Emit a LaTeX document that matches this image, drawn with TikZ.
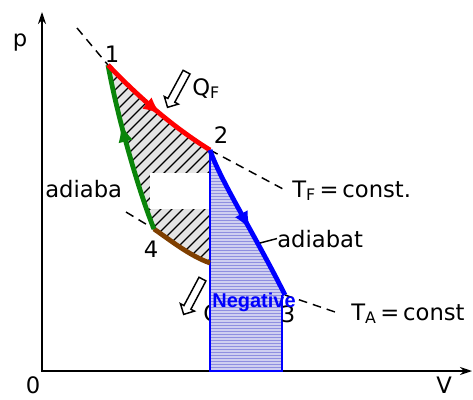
\documentclass[tikz,border=0pt]{standalone}
\usepackage{fontspec}
\setmainfont{DejaVu Sans}
\newfontfamily\negfont{Liberation Sans}
\usepackage{tikz}
\usetikzlibrary{arrows.meta,shapes.arrows,decorations.markings}
\usepackage{xcolor}
\definecolor{PathRed}{HTML}{FF0000}
\definecolor{PathGreen}{HTML}{0A850A}
\definecolor{PathBlue}{HTML}{0000FF}
\definecolor{PathBrown}{HTML}{7F3F00}
\definecolor{Lavender}{HTML}{CFCFF0}
\definecolor{LavLine}{HTML}{8F8FE0}
\definecolor{HatchGray}{HTML}{E4E4E4}
\tikzset{
  lbl/.style={font=\fontsize{17}{20}\selectfont, inner sep=0pt},
  iso/.style={line width=1.1pt, dash pattern=on 6.5pt off 4.5pt},
  axes/.style={line width=1.1pt, {Stealth[length=9pt,width=6pt]}-{Stealth[length=9pt,width=6pt]}},
  curve/.style={line width=3.6pt},
  midarr/.style={postaction={decorate, decoration={markings, mark=at position #1 with {\arrow{Latex[length=14pt,width=11pt]}}}}},
  heat/.style={single arrow, draw, line width=1.1pt, fill=white, minimum height=30pt, inner sep=2.4pt, single arrow head extend=3pt}
}

\begin{document}
\begin{tikzpicture}[x=.75pt,y=-.75pt]
\useasboundingbox (0,0) rectangle (473,399);
% corners of the cycle
\coordinate (p1) at (108,65);
\coordinate (p2) at (210,150);
\coordinate (p3) at (285,295);
\coordinate (p4) at (154,229);
\coordinate (c4) at (210,263);
% hatched work area
\begin{scope}
  \clip (p1) .. controls (130,88) and (165,122) .. (p2) -- (c4) .. controls (190,256) and (170,240) .. (p4) .. controls (140,195) and (118,120) .. (p1);
  \fill[HatchGray] (100,60) rectangle (215,270);
  \foreach \c in {172,183,...,480}
    \draw[line width=1pt] ({\c-300},300) -- (\c,0);
\end{scope}
\fill[white] (150,173) rectangle (210,209);
% isotherms
\coordinate (tf0) at (77,28);
\coordinate (tf1) at (283,189);
\coordinate (ta0) at (126,212);
\coordinate (ta1) at (338,313);
\draw[iso] (tf0) -- (p1);
\draw[iso] (p2) -- (tf1);
\draw[iso] (ta0) -- (p4);
\draw[iso] (p3) -- (ta1);
% axes
\coordinate (o) at (42,371);
\coordinate (ytop) at (42,12);
\coordinate (xend) at (472,371);
\draw[axes] (ytop) |- (xend);
% heat given off
\node[lbl, anchor=base west] (qa) at (203,321) {Q\textsubscript{A}};
\node[heat, rotate=242] (qaarr) at (194,295) {};
\node[heat, rotate=241.6] (qfarr) at (178,88) {};
% negative area under the adiabat
\begin{scope}
  \clip (p2) .. controls (220,180) and (255,235) .. (p3) -- (282,295) -- (282,371) -- (210,371) -- cycle;
  \fill[Lavender] (205,145) rectangle (290,375);
  \foreach \y in {151,154,...,370}
    \draw[LavLine, line width=.5pt] (205,\y) -- (290,\y);
\end{scope}
\draw[PathBlue, line width=1.1pt] (p2) -- (210,371) -- (282,371) -- (282,295);
% the cycle
\draw[curve, PathBrown] (p4) .. controls (170,240) and (190,256) .. (c4);
\draw[curve, PathGreen, midarr=.65] (p4) .. controls (140,195) and (118,120) .. (p1);
\draw[curve, PathRed, midarr=.55] (p1) .. controls (130,88) and (165,122) .. (p2);
\draw[curve, PathBlue, midarr=.55] (p2) .. controls (220,180) and (255,235) .. (p3);
% labels
\node[lbl, anchor=base] (plab) at (20,47) {p};
\node[lbl, anchor=base] (olab) at (33,393) {0};
\node[lbl, anchor=base] (vlab) at (444,393) {V};
\node[lbl, anchor=base] (l1) at (112,63) {1};
\node[lbl, anchor=base] (l2) at (221,143) {2};
\node[lbl, anchor=base] (l3) at (288,322) {3};
\node[lbl, anchor=base] (l4) at (151,257) {4};
\node[lbl, anchor=base west] (qf) at (192,95) {Q\textsubscript{F}};
\node[lbl, anchor=base west] (tf) at (292,197) {T\textsubscript{F}\,=\,const.};
\node[lbl, anchor=base west] (ta) at (351,320) {T\textsubscript{A}\,=\,const};
\node[lbl, anchor=base west] (adl) at (45,197) {adiaba};
\node[lbl, anchor=base west] (adr) at (277,247) {adiabat};
\coordinate (adfoot) at (260,243);
\draw[line width=1.1pt] (adfoot) -- (adr.west);
\node[font={\fontsize{15}{18}\negfont\bfseries}, text=PathBlue, anchor=base, inner sep=0pt] (neg) at (254,307) {Negative};
\end{tikzpicture}
\end{document}
